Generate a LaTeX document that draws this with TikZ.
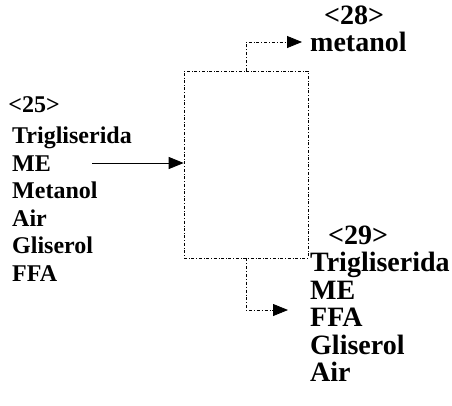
\documentclass[tikz,border=0pt]{standalone}
\usepackage{fontspec}
\setmainfont{Liberation Serif}
\usetikzlibrary{arrows.meta,positioning}

\begin{document}
\begin{tikzpicture}[x=1pt,y=-1pt, >={Triangle[length=15pt,width=12pt]},
  unitbox/.style={draw,dash dot,line width=0.6pt,minimum width=124pt,minimum height=187pt,inner sep=0pt},
  small/.style={font=\fontsize{24}{27.5}\selectfont\bfseries,align=left,inner sep=0pt},
  big/.style={font=\fontsize{28}{27.5}\selectfont\bfseries,align=left,inner sep=0pt},
  flow/.style={->,line width=0.8pt,dash dot}]
\useasboundingbox (0,0) rectangle (452,405);
\node[unitbox] (unit) at (246,164.5) {};
\node[small,anchor=center] (tag25) at (34,105) {<25>};
\node[small,anchor=north west] (feed) at (12,127) {Trigliserida\\ME\\Metanol\\Air\\Gliserol\\FFA};
\node[big,anchor=center] (tag28) at (354,15) {<28>};
\node[big,anchor=west] (top) at (310,42) {metanol};
\node[big,anchor=center] (tag29) at (358,235) {<29>};
\node[big,anchor=north west] (bottom) at (310,252) {Trigliserida\\ME\\FFA\\Gliserol\\Air};
\coordinate (in) at (92,163);
\coordinate (topend) at (302,42);
\coordinate (botend) at (288,310);
\draw[->,line width=0.8pt] (in) -- (in -| unit.west);
\draw[flow] (unit.north) |- (topend);
\draw[flow] (unit.south) |- (botend);
\end{tikzpicture}
\end{document}
